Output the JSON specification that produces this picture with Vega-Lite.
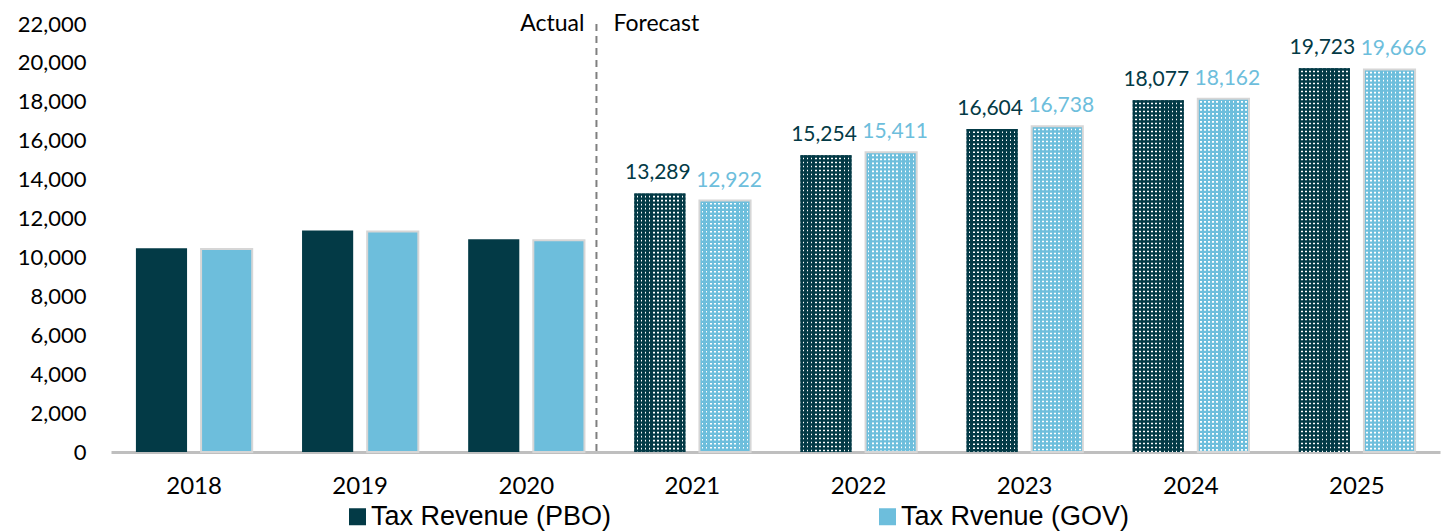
{
  "$schema": "https://vega.github.io/schema/vega-lite/v6.json",
  "width": 1329,
  "height": 428,
  "autosize": {"type": "none"},
  "padding": {"left": 111, "top": 24, "right": 12, "bottom": 79},
  "background": "#ffffff",
  "config": {"view": {"stroke": null}},
  "data": {
    "values": [
      {"year": "2018", "series": "Tax Revenue (PBO)", "value": 10470, "phase": "Actual"},
      {"year": "2018", "series": "Tax Rvenue (GOV)", "value": 10430, "phase": "Actual"},
      {"year": "2019", "series": "Tax Revenue (PBO)", "value": 11380, "phase": "Actual"},
      {"year": "2019", "series": "Tax Rvenue (GOV)", "value": 11340, "phase": "Actual"},
      {"year": "2020", "series": "Tax Revenue (PBO)", "value": 10930, "phase": "Actual"},
      {"year": "2020", "series": "Tax Rvenue (GOV)", "value": 10890, "phase": "Actual"},
      {"year": "2021", "series": "Tax Revenue (PBO)", "value": 13289, "phase": "Forecast"},
      {"year": "2021", "series": "Tax Rvenue (GOV)", "value": 12922, "phase": "Forecast"},
      {"year": "2022", "series": "Tax Revenue (PBO)", "value": 15254, "phase": "Forecast"},
      {"year": "2022", "series": "Tax Rvenue (GOV)", "value": 15411, "phase": "Forecast"},
      {"year": "2023", "series": "Tax Revenue (PBO)", "value": 16604, "phase": "Forecast"},
      {"year": "2023", "series": "Tax Rvenue (GOV)", "value": 16738, "phase": "Forecast"},
      {"year": "2024", "series": "Tax Revenue (PBO)", "value": 18077, "phase": "Forecast"},
      {"year": "2024", "series": "Tax Rvenue (GOV)", "value": 18162, "phase": "Forecast"},
      {"year": "2025", "series": "Tax Revenue (PBO)", "value": 19723, "phase": "Forecast"},
      {"year": "2025", "series": "Tax Rvenue (GOV)", "value": 19666, "phase": "Forecast"}
    ]
  },
  "layer": [
    {
      "mark": {"type": "bar"},
      "encoding": {
        "x": {"field": "year", "type": "nominal", "scale": {"paddingInner": 0.3, "paddingOuter": 0.15},
          "axis": {"title": null, "labelAngle": 0, "labelFont": "Lato", "labelFontSize": 24, "labelColor": "#000000", "labelPadding": 22, "ticks": false, "domainColor": "#BFBFBF", "domainWidth": 3}},
        "xOffset": {"field": "series", "type": "nominal", "sort": ["Tax Revenue (PBO)", "Tax Rvenue (GOV)"], "scale": {"paddingInner": 0.215, "paddingOuter": 0}},
        "y": {"field": "value", "type": "quantitative", "scale": {"domain": [0, 22000], "nice": false},
          "axis": {"title": null, "values": [0, 2000, 4000, 6000, 8000, 10000, 12000, 14000, 16000, 18000, 20000, 22000], "format": ",.0f", "labelOverlap": false, "labelBound": false, "grid": false, "domain": false, "ticks": false, "labelFont": "Lato", "labelFontSize": 22, "labelColor": "#000000", "labelPadding": 25}},
        "color": {"field": "series", "type": "nominal", "sort": ["Tax Revenue (PBO)", "Tax Rvenue (GOV)"],
          "scale": {"domain": ["Tax Revenue (PBO)", "Tax Rvenue (GOV)"], "range": ["#033A46", "#6DBEDC"]},
          "legend": {"title": null, "orient": "none", "legendX": 233, "legendY": 479, "direction": "horizontal", "symbolType": "square", "symbolSize": 289, "symbolStrokeWidth": 0, "labelFont": "Liberation Sans", "labelFontSize": 27, "labelColor": "#000000", "labelOffset": 0, "columnPadding": 262, "padding": 0, "labelLimit": 400}}
      }
    },
    {
      "transform": [{"filter": "datum.phase === 'Forecast'"}],
      "mark": {"type": "bar", "fill": {"gradient": "linear", "x1": 0, "y1": 0, "x2": 1, "y2": 0, "stops": [
        {"offset": 0, "color": "rgba(255,255,255,0)"},
        {"offset": 0.044, "color": "rgba(255,255,255,0)"}, {"offset": 0.044, "color": "#ffffff"}, {"offset": 0.076, "color": "#ffffff"}, {"offset": 0.076, "color": "rgba(255,255,255,0)"},
        {"offset": 0.124, "color": "rgba(255,255,255,0)"}, {"offset": 0.124, "color": "#ffffff"}, {"offset": 0.156, "color": "#ffffff"}, {"offset": 0.156, "color": "rgba(255,255,255,0)"},
        {"offset": 0.204, "color": "rgba(255,255,255,0)"}, {"offset": 0.204, "color": "#ffffff"}, {"offset": 0.236, "color": "#ffffff"}, {"offset": 0.236, "color": "rgba(255,255,255,0)"},
        {"offset": 0.284, "color": "rgba(255,255,255,0)"}, {"offset": 0.284, "color": "#ffffff"}, {"offset": 0.316, "color": "#ffffff"}, {"offset": 0.316, "color": "rgba(255,255,255,0)"},
        {"offset": 0.364, "color": "rgba(255,255,255,0)"}, {"offset": 0.364, "color": "#ffffff"}, {"offset": 0.396, "color": "#ffffff"}, {"offset": 0.396, "color": "rgba(255,255,255,0)"},
        {"offset": 0.444, "color": "rgba(255,255,255,0)"}, {"offset": 0.444, "color": "#ffffff"}, {"offset": 0.476, "color": "#ffffff"}, {"offset": 0.476, "color": "rgba(255,255,255,0)"},
        {"offset": 0.524, "color": "rgba(255,255,255,0)"}, {"offset": 0.524, "color": "#ffffff"}, {"offset": 0.556, "color": "#ffffff"}, {"offset": 0.556, "color": "rgba(255,255,255,0)"},
        {"offset": 0.604, "color": "rgba(255,255,255,0)"}, {"offset": 0.604, "color": "#ffffff"}, {"offset": 0.636, "color": "#ffffff"}, {"offset": 0.636, "color": "rgba(255,255,255,0)"},
        {"offset": 0.684, "color": "rgba(255,255,255,0)"}, {"offset": 0.684, "color": "#ffffff"}, {"offset": 0.716, "color": "#ffffff"}, {"offset": 0.716, "color": "rgba(255,255,255,0)"},
        {"offset": 0.764, "color": "rgba(255,255,255,0)"}, {"offset": 0.764, "color": "#ffffff"}, {"offset": 0.796, "color": "#ffffff"}, {"offset": 0.796, "color": "rgba(255,255,255,0)"},
        {"offset": 0.844, "color": "rgba(255,255,255,0)"}, {"offset": 0.844, "color": "#ffffff"}, {"offset": 0.876, "color": "#ffffff"}, {"offset": 0.876, "color": "rgba(255,255,255,0)"},
        {"offset": 0.924, "color": "rgba(255,255,255,0)"}, {"offset": 0.924, "color": "#ffffff"}, {"offset": 0.956, "color": "#ffffff"}, {"offset": 0.956, "color": "rgba(255,255,255,0)"},
        {"offset": 1, "color": "rgba(255,255,255,0)"}
      ]}},
      "encoding": {
        "x": {"field": "year", "type": "nominal"},
        "xOffset": {"field": "series", "type": "nominal", "sort": ["Tax Revenue (PBO)", "Tax Rvenue (GOV)"]},
        "y": {"field": "value", "type": "quantitative",
          "axis": {"title": null, "values": [0, 2000, 4000, 6000, 8000, 10000, 12000, 14000, 16000, 18000, 20000, 22000], "format": ",.0f", "labelOverlap": false, "labelBound": false, "grid": false, "domain": false, "ticks": false, "labelFont": "Lato", "labelFontSize": 22, "labelColor": "#000000", "labelPadding": 25}}
      }
    },
    {
      "transform": [{"filter": "datum.phase === 'Forecast'"}],
      "mark": {"type": "rule", "strokeWidth": 51, "strokeDash": [2.4, 1.6], "strokeCap": "butt"},
      "encoding": {
        "x": {"field": "year", "type": "nominal"},
        "xOffset": {"field": "series", "type": "nominal", "sort": ["Tax Revenue (PBO)", "Tax Rvenue (GOV)"]},
        "y": {"field": "value", "type": "quantitative",
          "axis": {"title": null, "values": [0, 2000, 4000, 6000, 8000, 10000, 12000, 14000, 16000, 18000, 20000, 22000], "format": ",.0f", "labelOverlap": false, "labelBound": false, "grid": false, "domain": false, "ticks": false, "labelFont": "Lato", "labelFontSize": 22, "labelColor": "#000000", "labelPadding": 25}},
        "y2": {"datum": 0},
        "color": {"field": "series", "type": "nominal", "legend": null}
      }
    },
    {
      "transform": [{"filter": "datum.series === 'Tax Rvenue (GOV)'"}],
      "mark": {"type": "bar", "fill": "transparent", "stroke": "#D6D6D6", "strokeWidth": 2},
      "encoding": {
        "x": {"field": "year", "type": "nominal"},
        "xOffset": {"field": "series", "type": "nominal", "sort": ["Tax Revenue (PBO)", "Tax Rvenue (GOV)"]},
        "y": {"field": "value", "type": "quantitative",
          "axis": {"title": null, "values": [0, 2000, 4000, 6000, 8000, 10000, 12000, 14000, 16000, 18000, 20000, 22000], "format": ",.0f", "labelOverlap": false, "labelBound": false, "grid": false, "domain": false, "ticks": false, "labelFont": "Lato", "labelFontSize": 22, "labelColor": "#000000", "labelPadding": 25}}
      }
    },
    {
      "transform": [{"filter": "datum.phase === 'Forecast' && datum.series === 'Tax Revenue (PBO)'"}],
      "mark": {"type": "text", "font": "Lato", "fontSize": 21, "fontWeight": "normal", "baseline": "alphabetic", "dy": -14, "dx": -2},
      "encoding": {
        "x": {"field": "year", "type": "nominal"},
        "xOffset": {"field": "series", "type": "nominal", "sort": ["Tax Revenue (PBO)", "Tax Rvenue (GOV)"]},
        "y": {"field": "value", "type": "quantitative",
          "axis": {"title": null, "values": [0, 2000, 4000, 6000, 8000, 10000, 12000, 14000, 16000, 18000, 20000, 22000], "format": ",.0f", "labelOverlap": false, "labelBound": false, "grid": false, "domain": false, "ticks": false, "labelFont": "Lato", "labelFontSize": 22, "labelColor": "#000000", "labelPadding": 25}},
        "text": {"field": "value", "type": "quantitative", "format": ","},
        "color": {"field": "series", "type": "nominal", "legend": null}
      }
    },
    {
      "transform": [{"filter": "datum.phase === 'Forecast' && datum.series === 'Tax Rvenue (GOV)'"}],
      "mark": {"type": "text", "font": "Lato", "fontSize": 21, "fontWeight": "normal", "baseline": "alphabetic", "dy": -14, "dx": 4},
      "encoding": {
        "x": {"field": "year", "type": "nominal"},
        "xOffset": {"field": "series", "type": "nominal", "sort": ["Tax Revenue (PBO)", "Tax Rvenue (GOV)"]},
        "y": {"field": "value", "type": "quantitative",
          "axis": {"title": null, "values": [0, 2000, 4000, 6000, 8000, 10000, 12000, 14000, 16000, 18000, 20000, 22000], "format": ",.0f", "labelOverlap": false, "labelBound": false, "grid": false, "domain": false, "ticks": false, "labelFont": "Lato", "labelFontSize": 22, "labelColor": "#000000", "labelPadding": 25}},
        "text": {"field": "value", "type": "quantitative", "format": ","},
        "color": {"field": "series", "type": "nominal", "legend": null}
      }
    },
    {
      "data": {"values": [{"label": "divider"}]},
      "mark": {"type": "rule", "stroke": "#7F7F7F", "strokeWidth": 2, "strokeDash": [7, 5], "xOffset": 12},
      "encoding": {
        "x": {"datum": "2020", "type": "nominal", "bandPosition": 1},
        "y": {"datum": 22000, "type": "quantitative",
          "axis": {"title": null, "values": [0, 2000, 4000, 6000, 8000, 10000, 12000, 14000, 16000, 18000, 20000, 22000], "format": ",.0f", "labelOverlap": false, "labelBound": false, "grid": false, "domain": false, "ticks": false, "labelFont": "Lato", "labelFontSize": 22, "labelColor": "#000000", "labelPadding": 25}},
        "y2": {"datum": 0}
      }
    },
    {
      "data": {"values": [{"label": "Actual"}]},
      "mark": {"type": "text", "font": "Lato", "fontSize": 23, "fontWeight": "normal", "align": "right", "baseline": "middle", "fill": "#000000"},
      "encoding": {
        "x": {"datum": "2020", "type": "nominal", "bandPosition": 1},
        "y": {"datum": 22000, "type": "quantitative",
          "axis": {"title": null, "values": [0, 2000, 4000, 6000, 8000, 10000, 12000, 14000, 16000, 18000, 20000, 22000], "format": ",.0f", "labelOverlap": false, "labelBound": false, "grid": false, "domain": false, "ticks": false, "labelFont": "Lato", "labelFontSize": 22, "labelColor": "#000000", "labelPadding": 25}},
        "text": {"field": "label", "type": "nominal"}
      }
    },
    {
      "data": {"values": [{"label": "Forecast"}]},
      "mark": {"type": "text", "font": "Lato", "fontSize": 23, "fontWeight": "normal", "align": "left", "baseline": "middle", "fill": "#000000", "dx": 29},
      "encoding": {
        "x": {"datum": "2020", "type": "nominal", "bandPosition": 1},
        "y": {"datum": 22000, "type": "quantitative",
          "axis": {"title": null, "values": [0, 2000, 4000, 6000, 8000, 10000, 12000, 14000, 16000, 18000, 20000, 22000], "format": ",.0f", "labelOverlap": false, "labelBound": false, "grid": false, "domain": false, "ticks": false, "labelFont": "Lato", "labelFontSize": 22, "labelColor": "#000000", "labelPadding": 25}},
        "text": {"field": "label", "type": "nominal"}
      }
    }
  ]
}
